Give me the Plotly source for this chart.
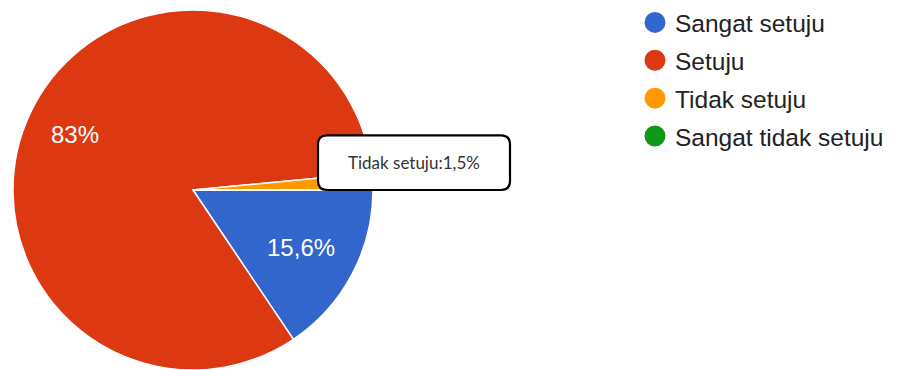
import math
import plotly.graph_objects as go

categories = ["Sangat setuju", "Setuju", "Tidak setuju", "Sangat tidak setuju"]
percent_values = [15.6, 83.0, 1.5, 0.0]
percent_labels = ["15,6%", "83%", "1,5%", ""]
colors = ["#3366cc", "#dc3912", "#ff9900", "#109618"]
callout_text = "Tidak setuju:1,5%"

W, H = 898, 370
LABEL_FONT = dict(family="Liberation Sans, Arial, sans-serif", size=24, color="white")

# pie geometry (pixels)
pie_left, pie_right, pie_top, pie_bottom = 12, 374, 8, 370
cx = (pie_left + pie_right) / 2
cy = (pie_top + pie_bottom) / 2
R = (pie_right - pie_left) / 2

# slice 0 label by plotly; big slice label placed further out along its bisector
texts = [percent_labels[0], "", "", ""]

fig = go.Figure()
fig.add_trace(go.Pie(
    labels=categories,
    values=percent_values,
    text=texts,
    textinfo="text",
    textposition="inside",
    insidetextorientation="horizontal",
    insidetextfont=LABEL_FONT,
    marker=dict(colors=colors, line=dict(color="white", width=1.5)),
    sort=False,
    direction="clockwise",
    rotation=90,
    showlegend=False,
    domain=dict(x=[pie_left / W, pie_right / W], y=[1 - pie_bottom / H, 1 - pie_top / H]),
    hoverinfo="label+percent",
))

total = sum(percent_values)
mid_frac = (percent_values[0] + percent_values[1] / 2) / total
theta = math.radians(mid_frac * 360)  # clockwise from 3 o'clock
lx = cx + 0.72 * R * math.cos(theta)
ly = cy + 0.72 * R * math.sin(theta)
fig.add_annotation(x=lx / W, y=1 - ly / H, xref="paper", yref="paper",
                   xanchor="center", yanchor="middle",
                   text=percent_labels[1], showarrow=False, font=LABEL_FONT)

# legend entries (circle symbols)
for i, (c, col) in enumerate(zip(categories, colors)):
    fig.add_trace(go.Scatter(
        x=[None], y=[None], mode="markers", name=c,
        legendgroup=f"g{i}",
        marker=dict(symbol="circle", size=16, color=col, line=dict(color=col, width=6)),
    ))

# rounded callout box (pixel coords converted to paper)
x0, x1, y0, y1, r = 318, 510, 134, 189, 9
def px(x):
    return x / W
def py(y):
    return 1 - y / H
path = (
    f"M {px(x0 + r)},{py(y0)} L {px(x1 - r)},{py(y0)} "
    f"Q {px(x1)},{py(y0)} {px(x1)},{py(y0 + r)} L {px(x1)},{py(y1 - r)} "
    f"Q {px(x1)},{py(y1)} {px(x1 - r)},{py(y1)} L {px(x0 + r)},{py(y1)} "
    f"Q {px(x0)},{py(y1)} {px(x0)},{py(y1 - r)} L {px(x0)},{py(y0 + r)} "
    f"Q {px(x0)},{py(y0)} {px(x0 + r)},{py(y0)} Z"
)
fig.add_shape(type="path", path=path, xref="paper", yref="paper",
              fillcolor="white", line=dict(color="black", width=2.2), layer="above")
fig.add_annotation(x=px((x0 + x1) / 2), y=py((y0 + y1) / 2), xref="paper", yref="paper",
                   xanchor="center", yanchor="middle",
                   text=callout_text, showarrow=False,
                   font=dict(family="Lato, Noto Sans, sans-serif", size=17, color="#333333"))

fig.update_layout(
    width=W, height=H,
    margin=dict(l=0, r=0, t=0, b=0),
    paper_bgcolor="white", plot_bgcolor="white",
    xaxis=dict(visible=False), yaxis=dict(visible=False),
    legend=dict(
        x=635 / W, y=1 + 2 / H, xanchor="left", yanchor="top",
        font=dict(family="Liberation Sans, Arial, sans-serif", size=24.5, color="#222222"),
        tracegroupgap=3, bgcolor="rgba(0,0,0,0)",
    ),
)

fig.write_html("out.html", config={"displayModeBar": False},
               post_script="document.body.style.margin='0';")
